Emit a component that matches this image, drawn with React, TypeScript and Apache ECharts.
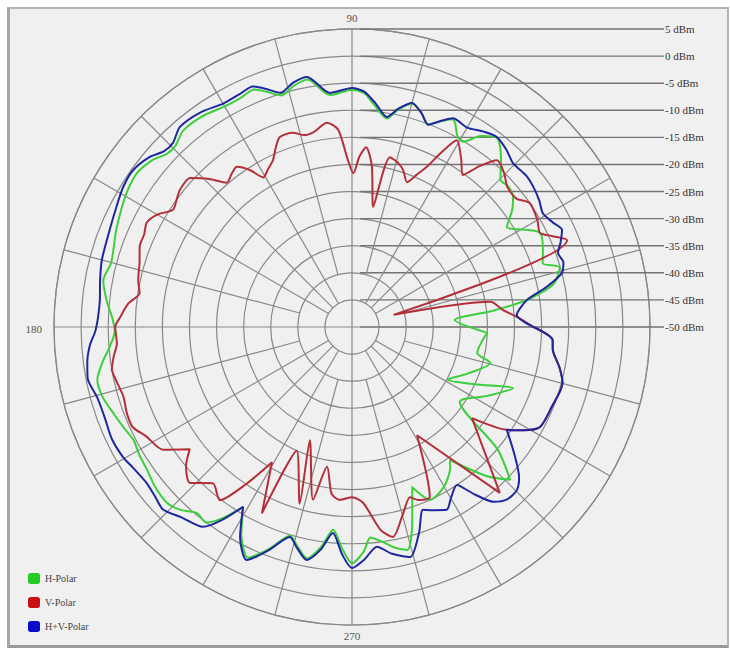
import React, { useEffect, useRef } from "react";
import * as echarts from "echarts";

// [angle (deg), level (dBm)]
const hPolar: [number, number][] = [
  [357.5, -25], [3.9, -31], [6.5, -24], [8.8, -17.3], [12, -12], [16, -10.1], [18.5, -12.9], [22, -12],
  [26.6, -11.2], [29.5, -13.5], [32.8, -16], [36, -13.5], [38.9, -11.8], [42, -11.2], [44.8, -11.4],
  [48.5, -8.5], [52.5, -6], [56, -7.5], [59, -10.1], [61, -9.8], [63.2, -7.8], [64.2, -7.4], [67, -8.8],
  [69.4, -10.1], [72, -8.5], [75, -7.3], [78, -9], [80.5, -11], [84, -9], [87, -6.8], [90, -6.2],
  [95.4, -7], [100.2, -3.6], [103.5, -4.2], [107, -5.3], [110, -3.8], [112.4, -2.6], [116, -3], [120, -3],
  [125.3, -2.3], [130.7, -2.2], [134.2, -3.3], [137, -3.2], [140, -2], [144.4, -1.2], [148.6, -1.5],
  [153, -2.2], [158, -3], [165, -4], [169.4, -3.3], [174, -4.5], [177.7, -5.7], [181, -6.2], [185, -5],
  [188, -3.5], [191.7, -2], [195.7, -2.2], [200, -3.2], [204, -4], [207.3, -4.6], [211, -4.2], [214.9, -3.9],
  [219, -3.2], [223.6, -2.9], [227, -3.8], [230.2, -5.3], [233.3, -5], [236, -7.5], [238.8, -11.2],
  [242, -6.5], [245.7, -3.3], [249.5, -6.3], [253.5, -9.8], [256, -8.3], [259, -6.5], [262, -9],
  [264.7, -12.4], [267.5, -9], [270, -6.4], [273, -8.5], [275, -11], [278, -10], [281, -8.5], [284, -7.6],
  [287, -12], [290.6, -18.4], [294.3, -15], [300, -16], [305, -18.4], [306.4, -19.5], [312, -13],
  [316, -9.4], [320, -15], [325.2, -25.8], [333, -22], [339.2, -18.2], [335, -25], [331, -29.9],
  [338, -27], [345.4, -23.6], [348.3, -26.4], [353, -26], [357.5, -25],
];

const vPolar: [number, number][] = [
  [0, -16.5], [3.5, -19.5], [6.5, -22], [10.3, -24], [16.3, -42], [22, -7.2], [24.5, -9.5], [26.6, -11.2],
  [30, -10.5], [34.9, -10], [38, -11.5], [42, -11.4], [45.5, -10], [49, -9.2], [51.5, -12], [53.9, -15.3],
  [57, -13], [60.7, -10.5], [63, -14], [64.9, -17.3], [67, -19.5], [69.2, -21.4], [72, -19.5],
  [74.5, -18.5], [77.4, -17.9], [80, -27.5], [83, -20], [85.5, -16.7], [87.5, -18.5], [89.5, -21.6],
  [91.5, -19], [94, -13.5], [97, -12], [101, -13.3], [104, -13.5], [107, -12.5], [110.8, -12.5],
  [113, -14], [115.3, -15.9], [118, -17], [120.7, -17.9], [123, -15.5], [125.7, -13.6], [128, -14],
  [131, -14.7], [134, -12], [137.4, -9.4], [141.5, -9.4], [144, -10], [146.8, -10.5], [150, -8.5],
  [153, -7.5], [156, -8], [159.3, -8.1], [163, -9], [167.6, -9.6], [170.9, -10.3], [174, -8.5],
  [177.5, -7.2], [180, -6.3], [184, -6.5], [187, -5.7], [190, -5], [193, -5.4], [197, -5.9], [201, -5.5],
  [204.5, -5.5], [208, -7], [213, -8.4], [217, -12.5], [220, -10], [223.9, -8.5], [228.3, -11.4],
  [232.7, -9.8], [236, -15], [239.4, -21], [244.2, -11.8], [245.9, -25], [253.5, -16], [249.6, -27.7],
  [257.3, -17.3], [259.9, -23.8], [263, -19], [266, -18], [270, -18.6], [273.6, -17.5], [278, -12.2],
  [281, -10.5], [285, -14], [288.8, -16.8], [291, -15.8], [294.6, -15.5], [301, -26.7], [311.7, -9],
  [322.8, -22.2], [326.4, -15.7], [329, -13], [332, -10.7], [338, -10.3], [345.1, -9.8], [349, -11],
  [353.5, -12.7], [356.3, -12.9], [360, -16.5],
];

const hvPolar: [number, number][] = [
  [0, -16.5], [4.2, -19.5], [8.8, -17.3], [11.5, -13.5], [14.4, -10], [17, -9.2], [19.8, -9.6], [22, -8.5],
  [24.8, -7.3], [27.5, -8.2], [30.8, -9], [34, -8.3], [37.7, -7.7], [41, -7.4], [45.5, -7.6], [49, -6.6],
  [52.7, -5.9], [56, -6.5], [60, -7.5], [64.2, -7.2], [67, -8.8], [69.4, -10.1], [72, -8.5], [75, -7.2],
  [78, -8.8], [80.5, -10.7], [84, -8.5], [87, -6.5], [90, -5.9], [95.4, -6.6], [100.2, -3.1],
  [103.5, -3.6], [107, -4.8], [110, -3.2], [112.4, -2], [116, -2.3], [120, -2.4], [125.3, -1.5],
  [130.7, -1.3], [134.2, -2.6], [137, -2.5], [140, -1.2], [144.4, -0.3], [148.6, -0.5], [153, -1.2],
  [158, -1.8], [165, -2.2], [169.4, -2.7], [174, -3.2], [177.7, -3.1], [181, -2.6], [184, -1.5],
  [187.7, -0.7], [191, -0.3], [195.4, -1.2], [200, -1.4], [205, -1.1], [209.6, -1.4], [213, -2],
  [217.3, -2.4], [221, -2], [224, -1.5], [228, -2.8], [233.3, -4], [236, -7], [238.8, -11.2], [242, -6],
  [245.7, -2.8], [249.5, -6], [253.5, -9.6], [256, -8], [259, -6.2], [262, -8.5], [264.7, -11.8],
  [267.5, -8], [270, -5.5], [273, -7], [276.5, -9.2], [280, -7.5], [284.2, -6.2], [288, -10],
  [291.2, -13.8], [294, -13], [297.4, -12], [300, -13.5], [303.6, -15], [306, -12], [309, -8.5],
  [312, -7.2], [315.3, -7.2], [318, -8.5], [322, -12], [326.4, -15.7], [329, -13], [332, -10.7],
  [338, -10.3], [345.1, -9.8], [349, -11], [353.5, -12.7], [356.3, -12.9], [360, -16.5],
];

const dbmLevels = [5, 0, -5, -10, -15, -20, -25, -30, -35, -40, -45, -50];
const angleLabels = [
  { angle: 90, text: "90" },
  { angle: 180, text: "180" },
  { angle: 270, text: "270" },
];
const spokeAngles = [0, 15, 30, 45, 60, 75, 90, 105, 120, 135, 150, 165, 180, 195, 210, 225, 240, 255, 270, 285, 300, 315, 330, 345];

const seriesNames = ["H-Polar", "V-Polar", "H+V-Polar"];

export default function App() {
  const ref = useRef<HTMLDivElement>(null);
  useEffect(() => {
    if (!ref.current) return;
    const chart = echarts.init(ref.current, null, { renderer: "svg" });
    const gridColor = "#888888";
    const spokeSeries = spokeAngles.map((a) => {
      const start = a % 90 === 0 ? -50 : a % 30 === 0 || a % 45 === 0 ? -45 : -40;
      return {
        type: "line",
        coordinateSystem: "polar",
        name: "spoke" + a,
        data: [[start, a], [5, a]],
        symbol: "none",
        silent: true,
        z: 1,
        lineStyle: { color: gridColor, width: 1.2 },
      };
    });
    const mk = (name: string, data: [number, number][], line: string, icon: string) => ({
      type: "line",
      coordinateSystem: "polar",
      name,
      data: data.map(([a, v]) => [v, a]),
      symbol: "none",
      showSymbol: false,
      smooth: 0.25,
      z: 3,
      itemStyle: { color: icon },
      lineStyle: { color: line, width: 2 },
    });
    chart.setOption({
      animation: false,
      backgroundColor: "transparent",
      polar: { center: [352, 327], radius: 298 },
      angleAxis: {
        type: "value",
        min: 0,
        max: 360,
        interval: 15,
        startAngle: 0,
        clockwise: false,
        axisLine: { show: true, lineStyle: { color: gridColor, width: 1.2 } },
        axisTick: { show: false },
        axisLabel: { show: false },
        splitLine: { show: false },
      },
      radiusAxis: {
        type: "value",
        min: -50,
        max: 5,
        interval: 5,
        axisLine: { show: false },
        axisTick: { show: false },
        axisLabel: { show: false },
        splitLine: { show: true, lineStyle: { color: gridColor, width: 1.2 } },
      },
      legend: {
        data: seriesNames,
        orient: "vertical",
        left: 23,
        top: 568,
        itemWidth: 12,
        itemHeight: 11,
        itemGap: 13,
        icon: "roundRect",
        textStyle: { fontFamily: "Liberation Serif", fontSize: 10, color: "#444" },
      },
      series: [
        ...spokeSeries,
        mk(seriesNames[0], hPolar, "#3ccf3c", "#22cc22"),
        mk(seriesNames[1], vPolar, "#b3303a", "#c80f0f"),
        mk(seriesNames[2], hvPolar, "#1f27a0", "#0b0bc8"),
      ],
    });

    const toPx = (r: number, a: number): number[] => {
      let p: any = null;
      try {
        p = chart.convertToPixel({ seriesIndex: 0 } as any, [r, a]);
      } catch (e) {
        p = null;
      }
      if (!p || isNaN(p[0])) {
        const rad = ((r + 50) / 55) * 298;
        const t = (a * Math.PI) / 180;
        p = [352 + rad * Math.cos(t), 327 - rad * Math.sin(t)];
      }
      return p;
    };

    const graphics: any[] = [];
    dbmLevels.forEach((lv) => {
      const p = toPx(lv, 90);
      graphics.push({
        type: "line",
        z: 1,
        silent: true,
        shape: { x1: 360, y1: p[1], x2: 664, y2: p[1] },
        style: { stroke: "#737373", lineWidth: 1.4 },
      });
      graphics.push({
        type: "text",
        z: 10,
        x: 665,
        y: p[1],
        style: {
          text: `${lv} dBm`,
          font: '11px "Liberation Serif"',
          fill: "#333",
          textAlign: "left",
          textVerticalAlign: "middle",
          align: "left",
          verticalAlign: "middle",
        },
      });
    });
    angleLabels.forEach(({ angle, text }) => {
      const p = toPx(5, angle);
      let x = p[0];
      let y = p[1];
      let align = "center";
      if (angle === 90) y -= 11;
      if (angle === 270) y += 11;
      if (angle === 180) {
        x -= 12;
        y += 2;
        align = "right";
      }
      graphics.push({
        type: "text",
        z: 10,
        x,
        y,
        style: {
          text,
          font: '11px "Liberation Serif"',
          fill: "#555",
          textAlign: align,
          textVerticalAlign: "middle",
          align,
          verticalAlign: "middle",
        },
      });
    });
    chart.setOption({ graphic: graphics });

    return () => chart.dispose();
  }, []);

  return (
    <div style={{ position: "fixed", left: 0, top: 0, width: 730, height: 650, background: "#ffffff" }}>
      <div
        style={{
          position: "absolute",
          left: 7,
          top: 7,
          width: 722,
          height: 641,
          boxSizing: "border-box",
          background: "#f0f0f0",
          borderTop: "2px solid #b4b4b4",
          borderLeft: "3px solid #a6a6a6",
          borderRight: "2px solid #b4b4b4",
          borderBottom: "3px solid #9a9a9a",
        }}
      />
      <div ref={ref} style={{ position: "absolute", left: 0, top: 0, width: 730, height: 650 }} />
    </div>
  );
}
